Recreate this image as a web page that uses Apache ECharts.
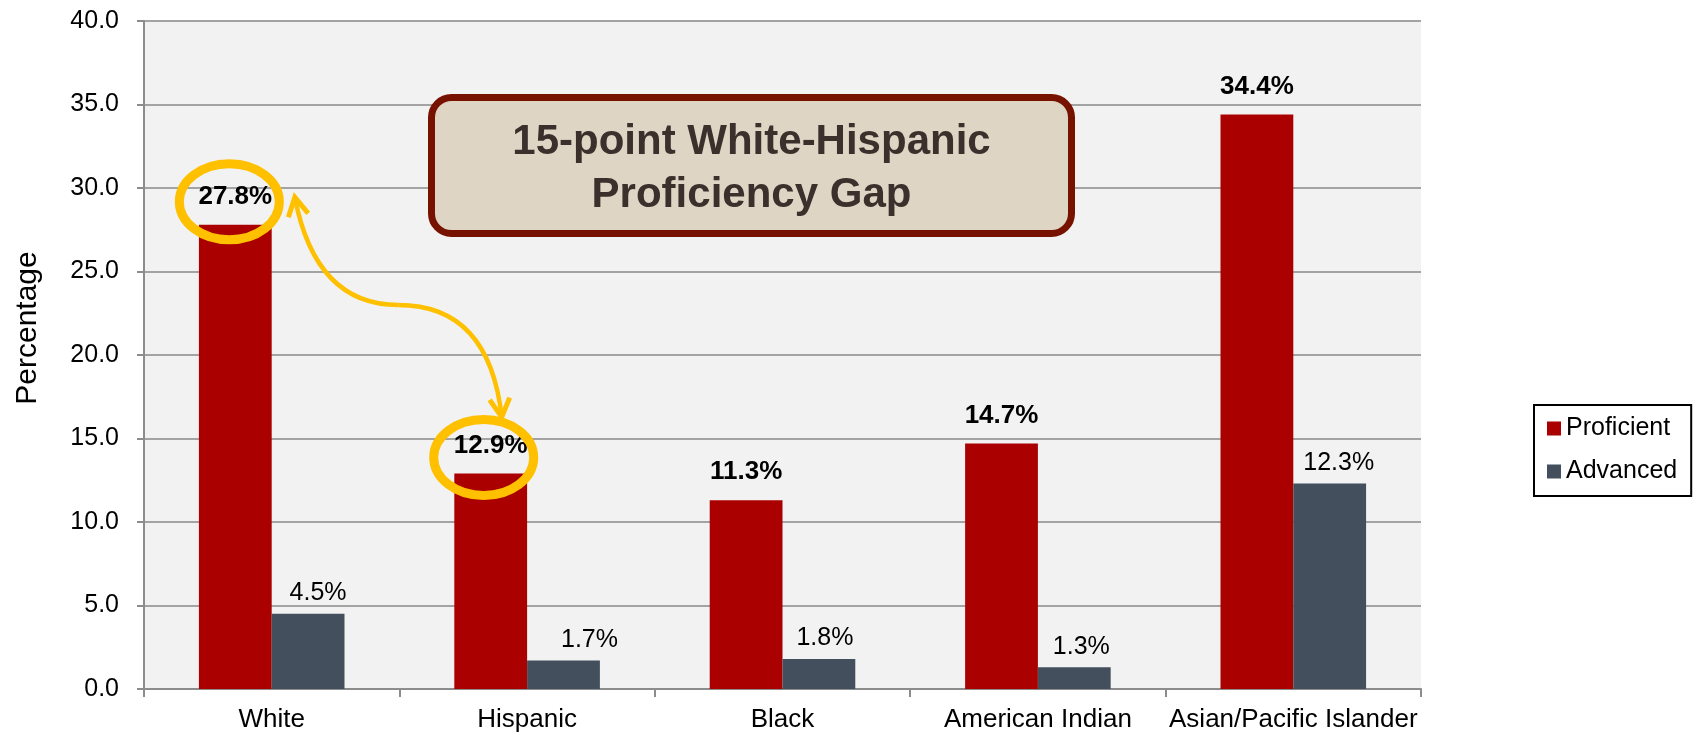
<!DOCTYPE html>
<html><head><meta charset="utf-8">
<script src="https://cdn.jsdelivr.net/npm/echarts@6/dist/echarts.min.js"></script>
<style>html,body{margin:0;padding:0;background:#fff}#c{width:1700px;height:735px}</style>
</head><body><div id="c"></div>
<script>
// ---- data ----
const categories = ['White', 'Hispanic', 'Black', 'American Indian', 'Asian/Pacific Islander'];
const proficient = [27.8, 12.9, 11.3, 14.7, 34.4];
const advanced = [4.5, 1.7, 1.8, 1.3, 12.3];
const seriesNames = ['Proficient', 'Advanced'];
const yMin = 0, yMax = 40, yInterval = 5;
const yAxisTitle = 'Percentage';
const annotationText = ['15-point White-Hispanic', 'Proficiency Gap'];
const gapPair = [0, 1]; // White vs Hispanic

// ---- styles ----
const FONT = "'Liberation Sans', Arial, sans-serif";
const advLabelDx = [10, 26, 6, 7, 9];
const colProf = '#ab0000', colAdv = '#434f5d';

const chart = echarts.init(document.getElementById('c'), null, {renderer: 'canvas'});

const option = {
  animation: false,
  backgroundColor: '#ffffff',
  textStyle: {fontFamily: FONT},
  grid: {left: 144, right: 279, top: 21, bottom: 46, show: true, backgroundColor: '#f2f2f2', borderWidth: 0},
  legend: {
    orient: 'vertical', left: 1534, top: 405,
    data: seriesNames,
    icon: 'rect', itemWidth: 14, itemHeight: 14, itemGap: 18,
    padding: [11, 14, 12, 13],
    borderColor: '#000', borderWidth: 2, borderRadius: 0,
    textStyle: {fontFamily: FONT, fontSize: 25, color: '#000'}
  },
  xAxis: {
    type: 'category', data: categories,
    axisLine: {lineStyle: {color: '#8c8c8c', width: 2}},
    axisTick: {show: true, length: 8, lineStyle: {color: '#8c8c8c', width: 2}},
    axisLabel: {fontFamily: FONT, fontSize: 26, color: '#000', margin: 18, interval: 0}
  },
  yAxis: {
    type: 'value', min: yMin, max: yMax, interval: yInterval,
    axisLine: {show: true, lineStyle: {color: '#8c8c8c', width: 2}},
    axisTick: {show: true, length: 7, lineStyle: {color: '#8c8c8c', width: 2}},
    axisLabel: {fontFamily: FONT, fontSize: 25, color: '#000', margin: 25, formatter: v => v.toFixed(1)},
    splitLine: {show: true, lineStyle: {color: '#a3a3a3', width: 2}}
  },
  series: [
    {
      name: seriesNames[0], type: 'bar', data: proficient,
      barGap: '0%', barCategoryGap: '43%',
      itemStyle: {color: colProf},
      label: {show: true, position: 'top', distance: 15, fontFamily: FONT, fontSize: 26, fontWeight: 'bold', color: '#000',
        formatter: p => p.value.toFixed(1) + '%'}
    },
    {
      name: seriesNames[1], type: 'bar',
      data: advanced.map((v, i) => ({value: v, label: {offset: [advLabelDx[i], 0]}})),
      barGap: '0%', barCategoryGap: '43%',
      itemStyle: {color: colAdv},
      label: {show: true, position: 'top', distance: 8, fontFamily: FONT, fontSize: 25, color: '#000',
        formatter: p => p.value.toFixed(1) + '%'}
    }
  ]
};
chart.setOption(option);

// ---- annotations derived from data positions ----
const px = i => chart.convertToPixel({xAxisIndex: 0}, i);
const py = v => chart.convertToPixel({yAxisIndex: 0}, v);
const catW = px(1) - px(0);
const barW = catW * (1 - 0.43) / 2;
const gold = '#ffc000';

const a = gapPair[0], b = gapPair[1];
const e1 = {cx: px(a) - barW / 2 - 6, cy: py(proficient[a]) - 23};
const e2 = {cx: px(b) - barW / 2 - 7, cy: py(proficient[b]) - 16};
const S = [e1.cx + 65.5, e1.cy - 4.5];
const E = [e2.cx + 18, e2.cy - 40.5];
const dx = E[0] - S[0], dy = E[1] - S[1];
const M = [S[0] + 0.5 * dx, S[1] + 0.49 * dy];
const C1 = [S[0] + 0.1 * dx, M[1]];
const C2 = [E[0] - 0.06 * dx, M[1]];

function head(tip, from) {
  const ang = Math.atan2(from[1] - tip[1], from[0] - tip[0]);
  const L = 21, sp = 0.5;
  return [[tip[0] + L * Math.cos(ang - sp), tip[1] + L * Math.sin(ang - sp)], tip,
          [tip[0] + L * Math.cos(ang + sp), tip[1] + L * Math.sin(ang + sp)]];
}

const boxX = 431.5, boxY = 97.5, boxW = 640, boxH = 136;

chart.setOption({
  graphic: [
    {type: 'text', x: 28, y: 328, rotation: Math.PI / 2, z: 50,
      style: {text: yAxisTitle, fontFamily: FONT, fontSize: 30, fill: '#000', align: 'center', verticalAlign: 'middle'}},
    {type: 'rect', z: 60, shape: {x: boxX, y: boxY, width: boxW, height: boxH, r: 20},
      style: {fill: '#dfd5c4', stroke: '#771100', lineWidth: 7}},
    {type: 'text', z: 61, x: boxX + boxW / 2, y: boxY + boxH / 2 + 3,
      style: {text: annotationText.join('\n'), fontFamily: FONT, fontSize: 42, fontWeight: 'bold', fill: '#3b302b',
        align: 'center', verticalAlign: 'middle', lineHeight: 53}},
    {type: 'ellipse', z: 70, shape: {cx: e1.cx, cy: e1.cy, rx: 50, ry: 38}, style: {fill: 'none', stroke: gold, lineWidth: 9}},
    {type: 'ellipse', z: 70, shape: {cx: e2.cx, cy: e2.cy, rx: 50, ry: 38}, style: {fill: 'none', stroke: gold, lineWidth: 9}},
    {type: 'bezierCurve', z: 70, shape: {x1: S[0], y1: S[1], cpx1: C1[0], cpy1: C1[1], x2: M[0], y2: M[1]},
      style: {fill: 'none', stroke: gold, lineWidth: 4.5}},
    {type: 'bezierCurve', z: 70, shape: {x1: M[0], y1: M[1], cpx1: C2[0], cpy1: C2[1], x2: E[0], y2: E[1]},
      style: {fill: 'none', stroke: gold, lineWidth: 4.5}},
    {type: 'polyline', z: 70, shape: {points: head(S, C1)}, style: {fill: 'none', stroke: gold, lineWidth: 5, lineJoin: 'miter'}},
    {type: 'polyline', z: 70, shape: {points: head(E, C2)}, style: {fill: 'none', stroke: gold, lineWidth: 5, lineJoin: 'miter'}}
  ]
});
</script>
</body></html>
